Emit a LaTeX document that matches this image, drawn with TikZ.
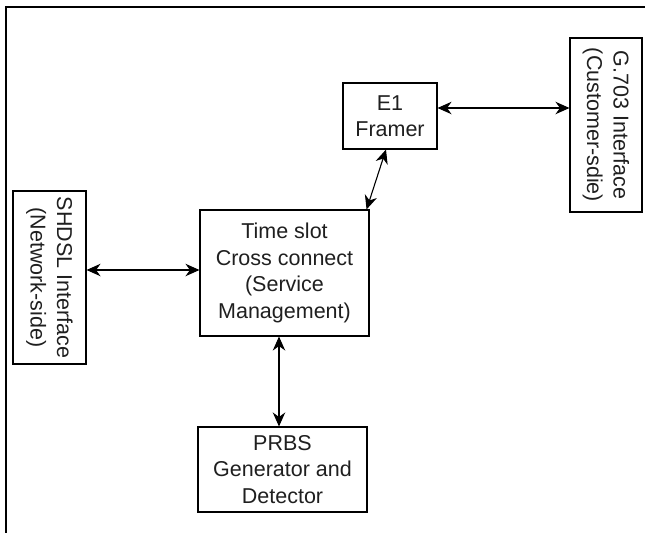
\documentclass[tikz,border=0pt]{standalone}
\usepackage{fontspec}
\setmainfont{Liberation Sans}
\usetikzlibrary{arrows.meta}
\tikzset{
  blk/.style={draw, line width=1.1pt, inner sep=0pt, align=center,
    font=\fontsize{21.5}{26.5}\selectfont, text=black!88},
  sidetext/.style={rotate=-90, align=center,
    font=\fontsize{21.5}{26.5}\selectfont, text=black!88},
  tip/.tip={Stealth[length=14pt,width=12.5pt,inset=4.5pt]},
  link/.style={line width=1.1pt, tip-tip},
}
\begin{document}
\begin{tikzpicture}[x=1pt,y=-1pt]
  \useasboundingbox (0,0) rectangle (645,533);
  % partial outer frame
  \draw[line width=1.1pt] (645,7) -- (6,7) -- (6,533);

  \node[blk, minimum width=73pt, minimum height=173pt] (shdsl) at (49.5,277.5) {};
  \node[sidetext] at (shdsl.center) {SHDSL Interface\\(Network-side)};

  \node[blk, minimum width=169pt, minimum height=126pt] (xc) at (284.5,273)
    {Time slot\\Cross connect\\(Service\\Management)};

  \node[blk, minimum width=94pt, minimum height=66pt] (e1) at (390,116) {E1\\Framer};

  \node[blk, minimum width=72pt, minimum height=174pt] (g703) at (606,125) {};
  \node[sidetext] at (g703.center) {G.703 Interface\\(Customer-sdie)};

  \node[blk, minimum width=169pt, minimum height=85pt] (prbs) at (282.5,469.5)
    {PRBS\\Generator and\\Detector};

  \draw[link] ([yshift=7.5pt]shdsl.east) -- ([yshift=3pt]xc.west);
  \draw[link] ([yshift=8pt]e1.east) -- ([yshift=17pt]g703.west);
  \draw[link] ([xshift=-4pt]e1.south) -- ([xshift=-3pt]xc.north east);
  \draw[link] ([xshift=-5.5pt]xc.south) -- ([xshift=-3.5pt]prbs.north);
\end{tikzpicture}
\end{document}
